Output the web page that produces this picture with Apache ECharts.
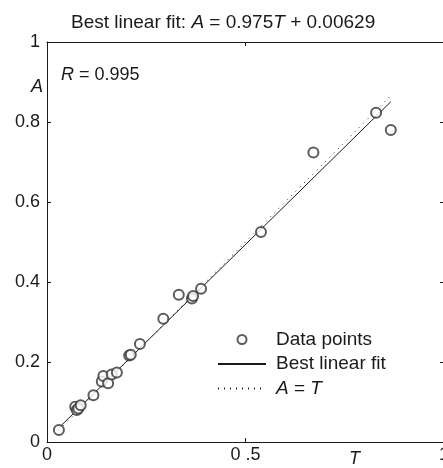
<!DOCTYPE html>
<html>
<head>
<meta charset="utf-8">
<script src="https://cdn.jsdelivr.net/npm/echarts@6/dist/echarts.min.js"></script>
<style>
  html, body { margin: 0; padding: 0; background: #fff; }
  #chart { width: 443px; height: 468px; }
</style>
</head>
<body>
<div id="chart"></div>
<script>
// Targets (T) and network outputs (A)
const targetT = [0.030, 0.071, 0.075, 0.079, 0.085, 0.117, 0.138, 0.142, 0.154, 0.163, 0.176,
                 0.207, 0.211, 0.234, 0.293, 0.332, 0.365, 0.368, 0.388, 0.539, 0.671, 0.829, 0.866];
const outputA = [0.030, 0.088, 0.080, 0.084, 0.092, 0.117, 0.151, 0.165, 0.147, 0.169, 0.174,
                 0.216, 0.218, 0.245, 0.308, 0.368, 0.359, 0.365, 0.383, 0.525, 0.724, 0.823, 0.780];

// Regression summary
const fitSlope = 0.975;
const fitIntercept = 0.00629;
const corrR = 0.995;

// Axis tick labels
const xTickLabels = ['0', '0 .5', '1'];
const yTickLabels = ['0', '0.2', '0.4', '0.6', '0.8', '1'];

const FONT = '"Liberation Sans", Arial, Helvetica, sans-serif';
const INK = '#1a1a1a';

const points = targetT.map((t, i) => [t, outputA[i]]);
const lo = Math.min(...targetT, ...outputA);
const hi = Math.max(...targetT, ...outputA);
const fitLine = [[lo, fitSlope * lo + fitIntercept], [hi, fitSlope * hi + fitIntercept]];
const idLine = [[lo, lo], [hi, hi]];

const chart = echarts.init(document.getElementById('chart'), null, { renderer: 'canvas' });

const axisCommon = {
  type: 'value', min: 0, max: 1,
  axisLine: { show: true, onZero: false, lineStyle: { color: INK, width: 1 } },
  axisTick: { show: true, inside: true, length: 4, lineStyle: { color: INK } },
  splitLine: { show: false }
};

// legend entries for the two lines show only their stroke
const hiddenMarker = { color: 'rgba(0,0,0,0)', borderColor: 'rgba(0,0,0,0)', borderWidth: 0 };

chart.setOption({
  animation: false,
  backgroundColor: '#fff',
  title: {
    text: '{n|Best linear fit: }{i|A}{n| = ' + fitSlope + '}{i|T}{n| + ' + fitIntercept + '}',
    left: 66,
    top: 8,
    textStyle: {
      fontWeight: 'normal',
      rich: {
        n: { fontFamily: FONT, fontSize: 19, color: INK, fontWeight: 'normal' },
        i: { fontFamily: FONT, fontSize: 19, color: INK, fontWeight: 'normal', fontStyle: 'italic' }
      }
    }
  },
  grid: { left: 47, width: 397, top: 42, height: 400, containLabel: false, outerBoundsMode: 'none' },
  xAxis: [
    Object.assign({}, axisCommon, {
      position: 'bottom', interval: 0.5,
      axisLabel: {
        show: true, margin: 4, fontFamily: FONT, fontSize: 18, color: INK,
        formatter: (v) => xTickLabels[Math.round(v / 0.5)]
      }
    }),
    Object.assign({}, axisCommon, {
      position: 'top', interval: 0.5, axisLabel: { show: false }
    })
  ],
  yAxis: [
    Object.assign({}, axisCommon, {
      position: 'left', interval: 0.2,
      axisLabel: {
        show: true, margin: 7, fontFamily: FONT, fontSize: 18, color: INK,
        formatter: (v) => yTickLabels[Math.round(v / 0.2)]
      }
    }),
    Object.assign({}, axisCommon, {
      position: 'right', interval: 0.2, axisLabel: { show: false }
    })
  ],
  legend: {
    orient: 'vertical',
    left: 217,
    top: 330,
    padding: 0,
    itemWidth: 48,
    itemHeight: 9,
    itemGap: 5.5,
    data: [
      { name: 'Data points' },
      { name: 'Best linear fit', itemStyle: hiddenMarker },
      { name: 'A = T', itemStyle: hiddenMarker }
    ],
    formatter: (name) => name === 'A = T' ? '{i|A} = {i|T}' : name,
    textStyle: {
      fontFamily: FONT, fontSize: 19, color: INK, padding: [0, 0, 0, 5],
      rich: { i: { fontFamily: FONT, fontSize: 19, color: INK, fontStyle: 'italic' } }
    }
  },
  series: [
    {
      name: 'Best linear fit',
      type: 'line',
      data: fitLine,
      symbol: 'none',
      color: INK,
      lineStyle: { color: INK, width: 1 },
      z: 2
    },
    {
      name: 'A = T',
      type: 'line',
      data: idLine,
      symbol: 'none',
      color: '#222',
      lineStyle: { color: '#222', width: 1, type: [1, 5] },
      z: 2
    },
    {
      name: 'Data points',
      type: 'scatter',
      data: points,
      symbol: 'emptyCircle',
      symbolSize: 10,
      color: '#333',
      itemStyle: { color: '#333', borderColor: '#333', borderWidth: 1 },
      z: 3
    }
  ],
  graphic: [
    {
      type: 'text', left: 61, top: 66,
      style: {
        text: '{i|R} = ' + corrR,
        font: '18px ' + FONT, fill: INK,
        rich: { i: { fontStyle: 'italic', fontFamily: FONT, fontSize: 18, fill: INK } }
      }
    },
    {
      type: 'text', left: 31, top: 78,
      style: { text: 'A', font: 'italic 18px ' + FONT, fill: INK }
    },
    {
      type: 'text', left: 349, top: 450,
      style: { text: 'T', font: 'italic 18px ' + FONT, fill: INK }
    }
  ]
});
</script>
</body>
</html>
